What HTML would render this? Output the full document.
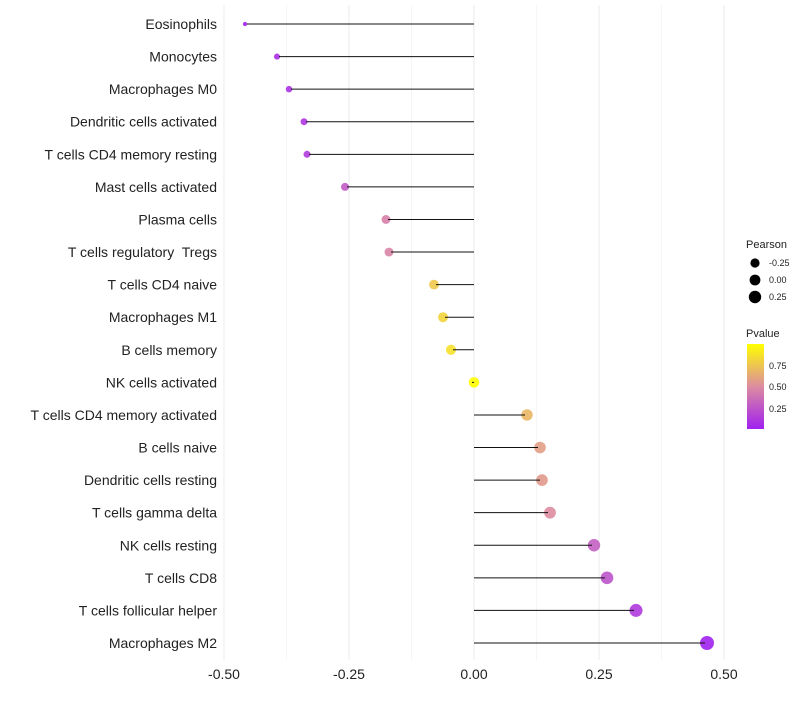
<!DOCTYPE html>
<html><head><meta charset="utf-8"><style>
body{margin:0;background:#fff;font-family:"Liberation Sans",sans-serif}
text{white-space:pre}
</style></head><body>
<svg id="c" width="800" height="700" xmlns="http://www.w3.org/2000/svg" xml:space="preserve">
<defs><linearGradient id="pg" x1="0" y1="1" x2="0" y2="0">
<stop offset="0" stop-color="#a020f0"/><stop offset="0.5" stop-color="#dc8ca0"/><stop offset="1" stop-color="#ffff00"/></linearGradient></defs>
<g id="grid"></g><g id="marks"></g><g id="stems"></g><g id="labels"></g><g id="legend"></g>
</svg>
<script>
const categories=["Eosinophils","Monocytes","Macrophages M0","Dendritic cells activated","T cells CD4 memory resting","Mast cells activated","Plasma cells","T cells regulatory  Tregs","T cells CD4 naive","Macrophages M1","B cells memory","NK cells activated","T cells CD4 memory activated","B cells naive","Dendritic cells resting","T cells gamma delta","NK cells resting","T cells CD8","T cells follicular helper","Macrophages M2"];
const pearson=[-0.458,-0.394,-0.37,-0.34,-0.334,-0.258,-0.176,-0.17,-0.08,-0.062,-0.046,0.0,0.106,0.132,0.136,0.152,0.24,0.266,0.324,0.466];
const pvalue=[0.02,0.08,0.1,0.12,0.14,0.28,0.45,0.47,0.75,0.8,0.85,0.98,0.68,0.58,0.56,0.5,0.3,0.25,0.14,0.03];
const xTicks=[-0.5,-0.25,0,0.25,0.5];
const xTickLabels=["-0.50","-0.25","0.00","0.25","0.50"];
const NS="http://www.w3.org/2000/svg";
const x=v=>474+v*500;
const y=i=>24+i*(619/19);
const rad=v=>2+5*Math.pow(Math.max(0,(v+0.46)/0.93),0.6);
function lerp(a,b,t){return a.map((c,i)=>Math.round(c+(b[i]-c)*t));}
function col(p){const t=Math.max(0,Math.min(1,(p-0.02)/0.96));const A=[160,32,240],M=[220,140,160],B=[255,255,0];
const c=t<0.5?lerp(A,M,t*2):lerp(M,B,(t-0.5)*2);return `rgb(${c})`;}
function el(t,a,p){const e=document.createElementNS(NS,t);for(const k in a)e.setAttribute(k,a[k]);p.appendChild(e);return e;}
const grid=document.getElementById('grid'),marks=document.getElementById('marks'),stems=document.getElementById('stems'),labels=document.getElementById('labels');
for(let k=-0.5;k<=0.5001;k+=0.125){const g=el('line',{x1:x(k),x2:x(k),y1:5,y2:660,stroke:Math.abs(k*4-Math.round(k*4))<1e-6?'#ebebeb':'#f5f5f5','stroke-width':1},grid);
}
xTicks.forEach((v,i)=>{const t=el('text',{x:x(v),y:679,'text-anchor':'middle','font-size':14,fill:'#222'},labels);t.textContent=xTickLabels[i];
});
categories.forEach((c,i)=>{
const t=el('text',{x:217,y:y(i)+5,'text-anchor':'end','font-size':14,fill:'#222'},labels);t.textContent=c;

const d=el('circle',{cx:x(pearson[i]),cy:y(i),r:rad(pearson[i]),fill:col(pvalue[i]),'fill-opacity':0.9},marks);

const l=el('line',{x1:x(0),x2:x(pearson[i])+(pearson[i]<0?2:-2),y1:y(i),y2:y(i),stroke:'#111','stroke-width':1},stems);

});
const lg=document.getElementById('legend');
lg.innerHTML=`<text x="746" y="248" font-size="11" fill="#222">Pearson</text>
<circle cx="755" cy="263" r="4.6" fill="#000"/><text x="769" y="266" font-size="9" fill="#222">-0.25</text>
<circle cx="755" cy="280" r="5.4" fill="#000"/><text x="769" y="283" font-size="9" fill="#222">0.00</text>
<circle cx="755" cy="297" r="6.2" fill="#000"/><text x="769" y="300" font-size="9" fill="#222">0.25</text>
<text x="746" y="337" font-size="11" fill="#222">Pvalue</text>
<rect x="747" y="344" width="17" height="85" fill="url(#pg)"/>
<text x="769" y="369" font-size="9" fill="#222">0.75</text><text x="769" y="390" font-size="9" fill="#222">0.50</text><text x="769" y="412" font-size="9" fill="#222">0.25</text>`;
</script>
</body></html>
